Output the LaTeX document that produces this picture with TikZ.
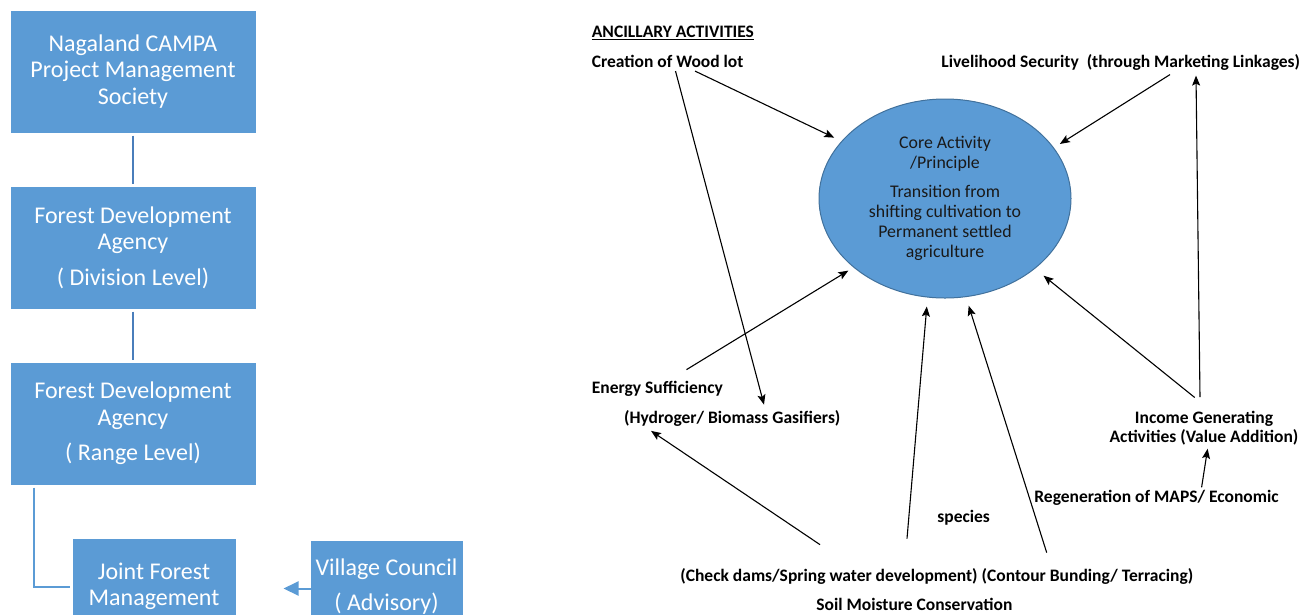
\documentclass[tikz,border=0pt]{standalone}
\usepackage{fontspec}
\setmainfont{Carlito}
\usetikzlibrary{shapes.geometric,arrows.meta,calc}

\definecolor{boxblue}{RGB}{91,155,213}
\definecolor{edgeblue}{RGB}{65,113,156}
\definecolor{linkblue}{RGB}{74,126,187}

\tikzset{every picture/.style={line width=0.75pt}}
\tikzset{
  orgbox/.style={rectangle, fill=boxblue, draw=boxblue, line width=1pt, text=white, align=center,
    inner sep=0pt, minimum width=244, minimum height=121, font=\fontsize{24}{26.5}\selectfont},
  link/.style={draw=linkblue, line width=2pt},
  lab/.style={anchor=west, inner sep=0pt, text height=12pt, text depth=1pt,
    font=\bfseries\fontsize{17.5}{19.5}\selectfont},
  arr/.style={-{Stealth[length=10pt,width=8pt,inset=2pt]}, line width=1.1pt},
}

\begin{document}
\begin{tikzpicture}[x=1pt,y=1pt,yscale=-1,xscale=1]
		\clip (0,0) rectangle (1301,614);
		
		%Org chart
		\node [orgbox] (campa) at (133,71.5) {Nagaland CAMPA\\Project Management\\Society};
		\node [orgbox] (fdadiv) at (133,247.5) {Forest Development\\Agency\\[9pt]( Division Level)};
		\node [orgbox] (fdarng) at (133,423.5) {Forest Development\\Agency\\[9pt]( Range Level)};
		\node [orgbox, anchor=north, minimum width=162, minimum height=94] (jfm) at (154,539) {Joint Forest\\Management};
		\node [orgbox, anchor=north, minimum width=151, minimum height=90] (vc) at (386.5,541) {Village Council\\[9pt]( Advisory)};
		\coordinate (vtip) at ($(jfm.east)+(48,2)$);
		
		\draw [link, shorten <=3pt, shorten >=3pt] (campa) -- (fdadiv);
		\draw [link, shorten <=3pt, shorten >=3pt] (fdadiv) -- (fdarng);
		\draw [link, draw=boxblue] ($(fdarng.south west)+(23,3)$) |- ($(jfm.west)+(-3,0)$);
		\draw [draw=boxblue, line width=2pt, -{Triangle[length=15pt,width=14pt]}] ($(vc.west)+(0,2)$) -- (vtip);
		
		%Core activity
		\node [ellipse, fill=boxblue, draw=edgeblue, line width=1pt, inner sep=0pt, minimum width=252, minimum height=199,
		  align=center, text=black!90, font=\fontsize{17.8}{20}\selectfont] (core) at (945,198.5)
		  {Core Activity\\/Principle\\[9pt]Transition from\\shifting cultivation to\\Permanent settled\\agriculture};
		
		%Ancillary activities
		\node [lab] (title) at (591.5,31.7) {\underline{ANCILLARY ACTIVITIES}};
		\node [lab] (wood) at (591.5,61.7) {Creation of Wood lot};
		\node [lab] (live) at (941,61.7) {Livelihood Security\ \ (through Marketing Linkages)};
		\node [lab] (energy) at (591.5,388) {Energy Sufficiency};
		\node [lab] (hydro) at (623.7,418) {(Hydroger/ Biomass Gasifiers)};
		\node [anchor=north, inner sep=0pt, align=center, font=\bfseries\fontsize{17.5}{19.5}\selectfont] (income) at (1204,410.5)
		  {Income Generating\\Activities (Value Addition)};
		\node [lab] (regen) at (1034,497) {Regeneration of MAPS/ Economic};
		\node [lab] (species) at (937,517) {species};
		\node [lab] (check) at (680,576) {(Check dams/Spring water development) (Contour Bunding/ Terracing)};
		\node [lab] (soil) at (816,605) {Soil Moisture Conservation};
		
		\draw [arr, shorten >=8pt] ($(wood.south west)+(103.5,2.5)$) -- (core.151);
		\draw [arr] ($(wood.south west)+(84,2.5)$) -- ($(hydro.north west)+(140.3,-6.5)$);
		\draw [arr, shorten >=7pt] ($(live.south west)+(229,6)$) -- (core.25);
		\draw [arr] ($(income.north)+(-4,-13.5)$) -- ($(live.south west)+(255,7)$);
		\draw [arr, shorten >=6pt] ($(energy.north west)+(95,-11.5)$) -- (core.217);
		\draw [arr, shorten >=11pt] ($(income.north)+(-9.3,-13)$) -- (core.322);
		\draw [arr, shorten >=9pt] ($(check.north west)+(227,-30.5)$) -- (core.260);
		\draw [arr, shorten >=9pt] ($(check.north west)+(366.7,-16.5)$) -- (core.282);
		\draw [arr] ($(check.north west)+(140,-24.5)$) -- ($(hydro.south west)+(27.3,6)$);
		\draw [arr] ($(regen.north west)+(167.6,-2.8)$) -- ($(income.south)+(3.6,3)$);
		
\end{tikzpicture}
\end{document}
